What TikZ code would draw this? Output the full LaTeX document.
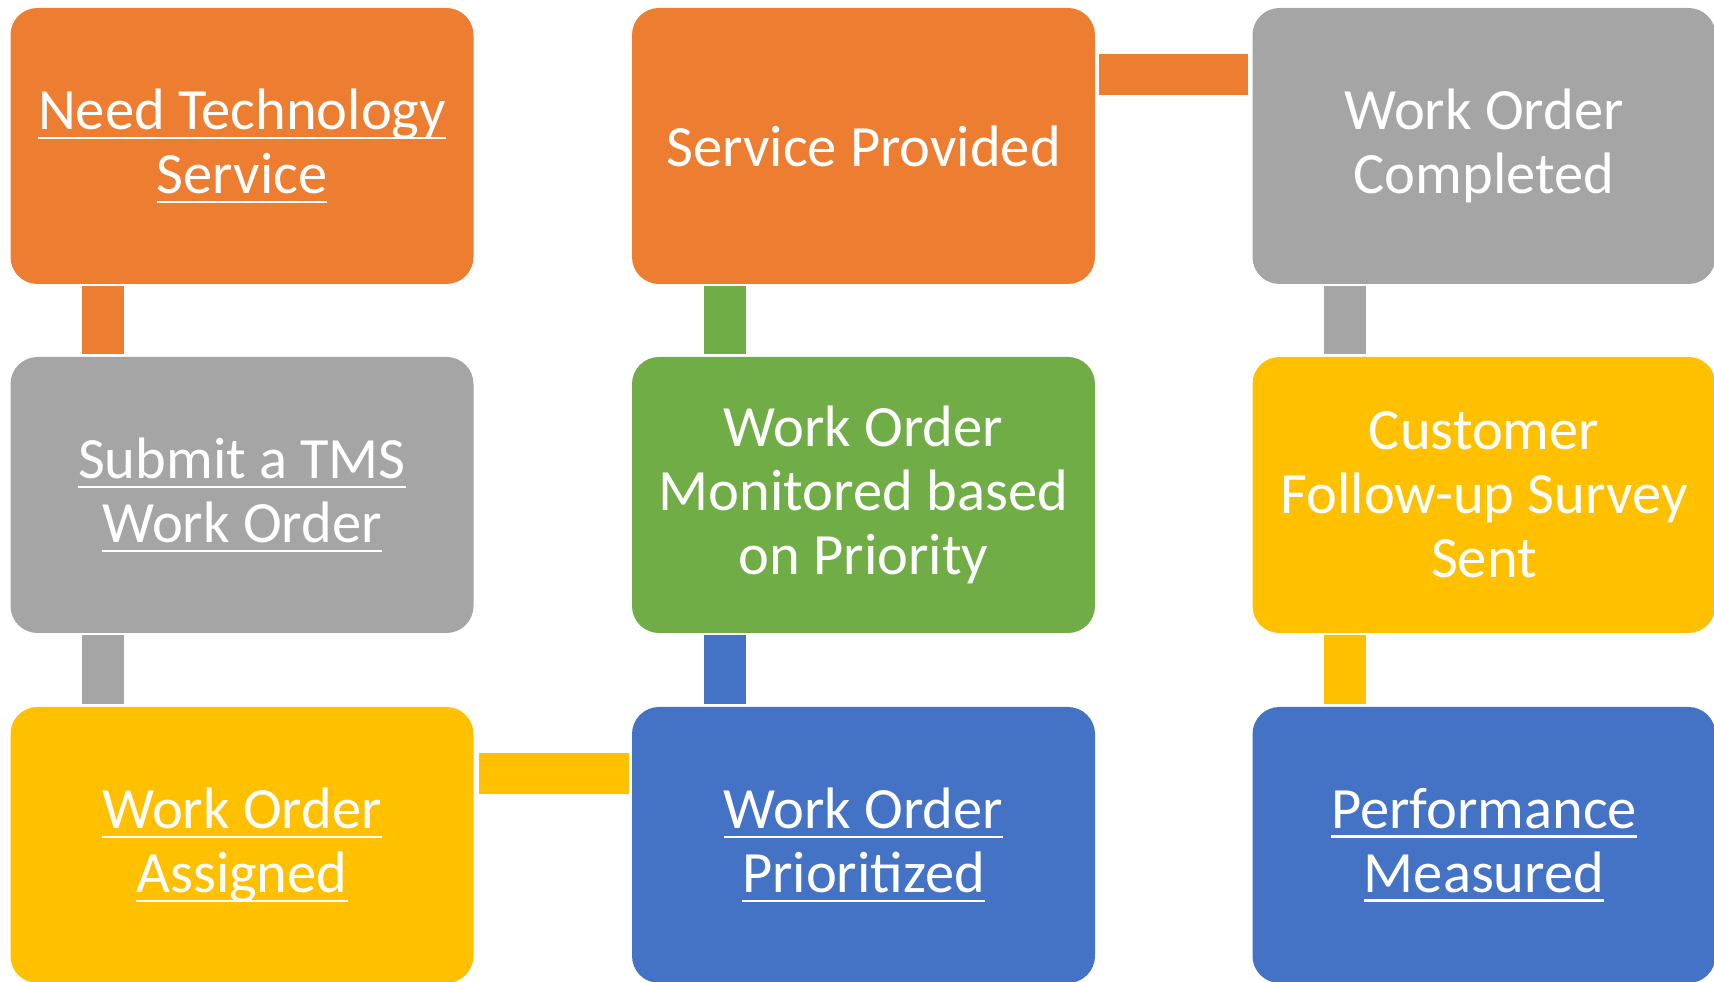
\documentclass[tikz,border=0pt]{standalone}
\usepackage{fontspec}
\setmainfont{Carlito}
\definecolor{cOrange}{HTML}{ED7D31}
\definecolor{cGrey}{HTML}{A5A5A5}
\definecolor{cYellow}{HTML}{FFC000}
\definecolor{cBlue}{HTML}{4472C4}
\definecolor{cGreen}{HTML}{70AD47}
\newcommand\ulx[1]{\sbox0{#1}\rlap{\rule[-10pt]{\wd0}{2.6pt}}\usebox0}
\tikzset{
  stepbox/.style={rectangle, rounded corners=27pt, minimum width=463pt, minimum height=276pt,
    inner sep=0pt, align=center, text=white, font=\fontsize{58.5}{64}\selectfont, fill=#1},
}
\begin{document}
\begin{tikzpicture}[x=1pt,y=1pt]
\useasboundingbox (0,0) rectangle (1714,982);
% row 1
\node[stepbox=cOrange] (n1) at (242,836) {\ulx{Need Technology}\\\ulx{Service}};
\node[stepbox=cOrange] (n6) at (863.5,836) {Service Provided};
\node[stepbox=cGrey] (n7) at (1484,836) {Work Order\\Completed};
% row 2
\node[stepbox=cGrey] (n2) at (242,487) {\ulx{Submit a TMS}\\\ulx{Work Order}};
\node[stepbox=cGreen] (n5) at (863.5,487) {Work Order\\Monitored based\\on Priority};
\node[stepbox=cYellow] (n8) at (1484,487) {Customer\\Follow-up Survey\\Sent};
% row 3
\node[stepbox=cYellow] (n3) at (242,137) {\ulx{Work Order}\\\ulx{Assigned}};
\node[stepbox=cBlue] (n4) at (863.5,137) {\ulx{Work Order}\\\ulx{Prioritized}};
\node[stepbox=cBlue] (n9) at (1484,137) {\ulx{Performance}\\\ulx{Measured}};
% vertical connectors
\fill[cOrange] ([xshift=72pt,yshift=-2pt]n1.south west) rectangle ([xshift=114pt,yshift=3pt]n2.north west);
\fill[cGrey] ([xshift=72pt,yshift=-2pt]n2.south west) rectangle ([xshift=114pt,yshift=3pt]n3.north west);
\fill[cBlue] ([xshift=72pt,yshift=3pt]n4.north west) rectangle ([xshift=114pt,yshift=-2pt]n5.south west);
\fill[cGreen] ([xshift=72pt,yshift=3pt]n5.north west) rectangle ([xshift=114pt,yshift=-2pt]n6.south west);
\fill[cGrey] ([xshift=72pt,yshift=-2pt]n7.south west) rectangle ([xshift=114pt,yshift=3pt]n8.north west);
\fill[cYellow] ([xshift=72pt,yshift=-2pt]n8.south west) rectangle ([xshift=114pt,yshift=3pt]n9.north west);
% horizontal connectors
\fill[cYellow] ([xshift=5pt,yshift=-46pt]n3.north east) rectangle ([xshift=-3pt,yshift=-87pt]n4.north west);
\fill[cOrange] ([xshift=4pt,yshift=-46pt]n6.north east) rectangle ([xshift=-4pt,yshift=-87pt]n7.north west);
\end{tikzpicture}
\end{document}
